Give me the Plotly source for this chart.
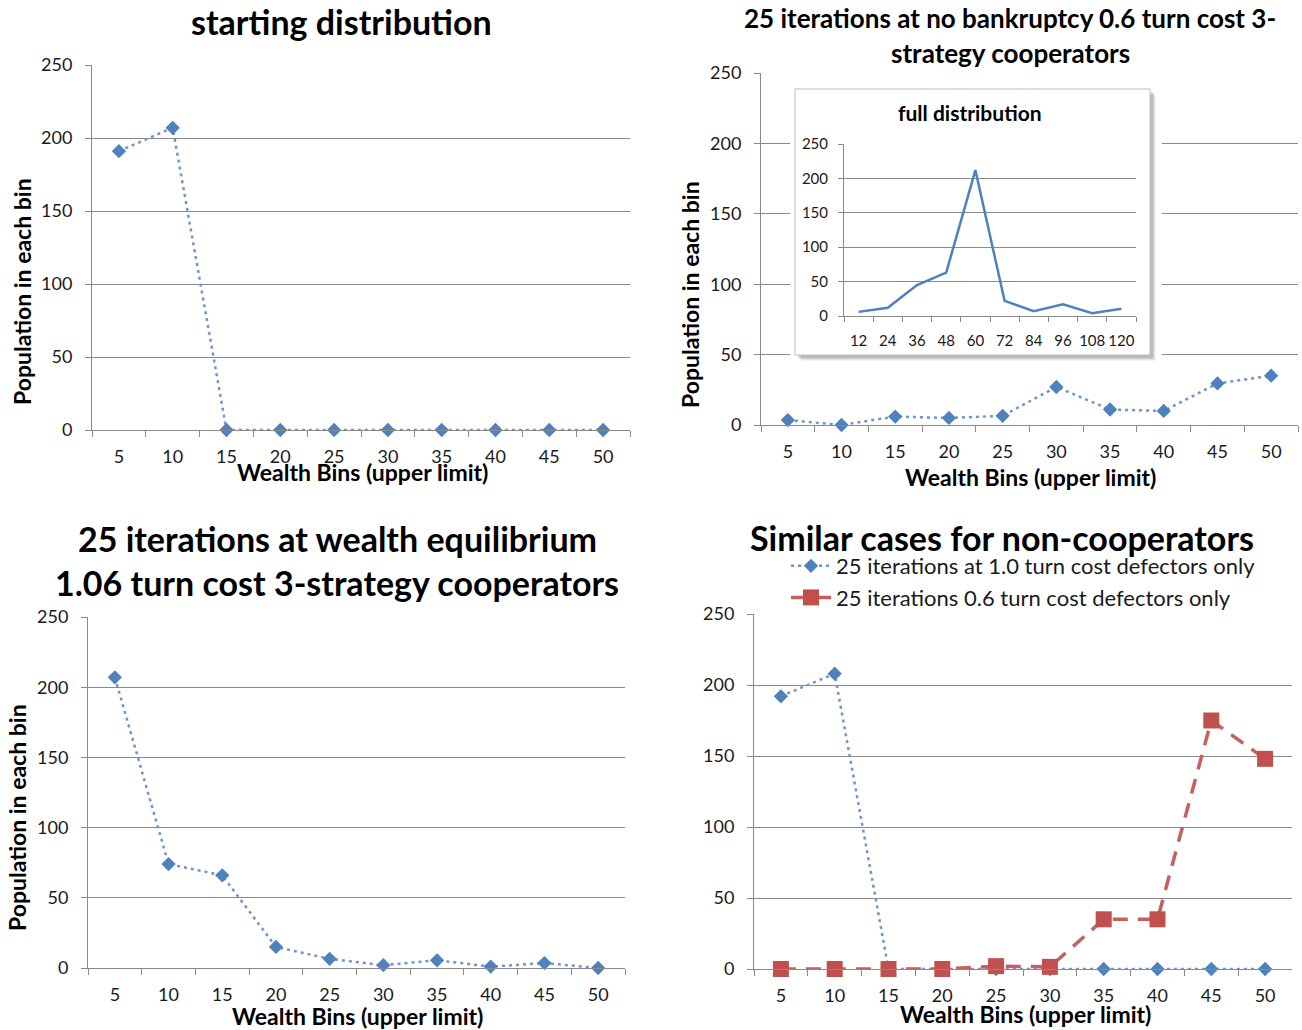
import plotly.graph_objects as go

W, H = 1302, 1030
FONT = "Lato"
TXT = "#1a1a1a"
GRID = "#8a8a8a"
BLUE = "#4F81BD"
BLUE_LINE = "#6F95C9"
RED = "#C0504D"
RED_LINE = "#C5605D"

# ---------------- data ----------------
bins = ["5", "10", "15", "20", "25", "30", "35", "40", "45", "50"]
start_pop = [191, 207, 0, 0, 0, 0, 0, 0, 0, 0]
nobank_pop = [3.5, 0, 6, 5, 6.5, 27, 11, 10, 29.5, 35]
equil_pop = [207, 74, 66, 15, 6.5, 2, 5.5, 1, 3.5, 0]
defect_10_pop = [192, 208, 0, 0, 0, 0, 0, 0, 0, 0]
defect_06_pop = [0, 0, 0, 0, 2, 1.5, 35, 35, 175, 148]
full_bins = ["12", "24", "36", "48", "60", "72", "84", "96", "108", "120"]
full_pop = [6, 12, 45, 63, 212, 22, 7, 17, 4, 10.5]

y_ticks = [0, 50, 100, 150, 200, 250]

legend_defect_10 = "25 iterations at 1.0 turn cost defectors only"
legend_defect_06 = "25 iterations 0.6 turn cost defectors only"


def dx(x0, x1):
    return [x0 / W, x1 / W]


def dy(ytop, ybot):
    return [1 - ybot / H, 1 - ytop / H]


def xcat(domain, anchor, fs=18, standoff=10, ticklen=6):
    return dict(domain=domain, anchor=anchor, type="category", range=[-0.5, 9.5],
                showline=True, linecolor=GRID, linewidth=1, ticks="outside",
                ticklen=ticklen, tickcolor=GRID, tickwidth=1, tickson="boundaries",
                showgrid=False, zeroline=False, tickangle=0, automargin=False,
                tickfont=dict(family=FONT, size=fs, color=TXT),
                ticklabelstandoff=standoff, fixedrange=True)


def yval(domain, anchor, fs=18, standoff=9, ticklen=6):
    return dict(domain=domain, anchor=anchor, range=[0, 250], tickvals=y_ticks,
                showgrid=True, gridcolor=GRID, gridwidth=1, automargin=False,
                showline=True, linecolor=GRID, linewidth=1, zeroline=False,
                ticks="outside", ticklen=ticklen, tickcolor=GRID, tickwidth=1,
                tickfont=dict(family=FONT, size=fs, color=TXT),
                ticklabelstandoff=standoff, fixedrange=True)


fig = go.Figure()

dot_line = dict(color=BLUE_LINE, width=2.5, dash="3px,4px")
diamond = dict(symbol="diamond", size=11, color=BLUE, line=dict(width=0))

# TL
fig.add_trace(go.Scatter(x=bins, y=start_pop, mode="lines+markers", line=dot_line,
                         marker=diamond, xaxis="x", yaxis="y", showlegend=False,
                         cliponaxis=False))
# TR
fig.add_trace(go.Scatter(x=bins, y=nobank_pop, mode="lines+markers", line=dot_line,
                         marker=diamond, xaxis="x2", yaxis="y2", showlegend=False,
                         cliponaxis=False))
# BL
fig.add_trace(go.Scatter(x=bins, y=equil_pop, mode="lines+markers", line=dot_line,
                         marker=diamond, xaxis="x3", yaxis="y3", showlegend=False,
                         cliponaxis=False))
# BR
fig.add_trace(go.Scatter(x=bins, y=defect_10_pop, mode="lines+markers", line=dot_line,
                         marker=diamond, xaxis="x4", yaxis="y4", name=legend_defect_10,
                         legendgroup="a", cliponaxis=False))
fig.add_trace(go.Scatter(x=bins, y=defect_06_pop, mode="lines+markers",
                         line=dict(color=RED_LINE, width=3.5, dash="15px,10px"),
                         marker=dict(symbol="square", size=16, color=RED, line=dict(width=0)),
                         xaxis="x4", yaxis="y4", name=legend_defect_06,
                         legendgroup="b", cliponaxis=False))

# inset box (decoration, pixel-unit axes)
BX0, BX1, BY0, BY1 = 795, 1150, 89, 355
for off, alpha in [(6, 0.05), (5, 0.06), (4, 0.08), (3, 0.10)]:
    fig.add_trace(go.Scatter(x=[BX0 + off, BX1 + off, BX1 + off, BX0 + off, BX0 + off],
                             y=[BY0 + off, BY0 + off, BY1 + off, BY1 + off, BY0 + off],
                             fill="toself", fillcolor=f"rgba(0,0,0,{alpha})",
                             mode="none", xaxis="x5", yaxis="y5",
                             showlegend=False, hoverinfo="skip"))
fig.add_trace(go.Scatter(x=[BX0, BX1, BX1, BX0, BX0], y=[BY0, BY0, BY1, BY1, BY0],
                         fill="toself", fillcolor="white", mode="lines",
                         line=dict(color="#bdbdbd", width=1),
                         xaxis="x5", yaxis="y5", showlegend=False, hoverinfo="skip"))

# inset line
fig.add_trace(go.Scatter(x=full_bins, y=full_pop, mode="lines",
                         line=dict(color=BLUE, width=2.5),
                         xaxis="x6", yaxis="y6", showlegend=False))

layout = dict(
    template="none",
    width=W, height=H, autosize=False,
    margin=dict(l=0, r=0, t=0, b=0, pad=0, autoexpand=False),
    paper_bgcolor="white", plot_bgcolor="white",
    font=dict(family=FONT, color=TXT),
    xaxis=xcat(dx(92, 630), "y"),
    yaxis=yval(dy(65, 430), "x"),
    xaxis2=xcat(dx(761, 1298), "y2"),
    yaxis2=yval(dy(73, 425), "x2"),
    xaxis3=xcat(dx(88, 625), "y3"),
    yaxis3=yval(dy(617, 968), "x3"),
    xaxis4=xcat(dx(754, 1292), "y4"),
    yaxis4=yval(dy(614, 969), "x4"),
    xaxis5=dict(domain=dx(790, 1162), anchor="y5", range=[790, 1162], visible=False,
                fixedrange=True, automargin=False),
    yaxis5=dict(domain=dy(85, 366), anchor="x5", range=[366, 85], visible=False,
                fixedrange=True, automargin=False),
    xaxis6=xcat(dx(844, 1136), "y6", fs=15, standoff=11, ticklen=5),
    yaxis6=yval(dy(144, 316), "x6", fs=15, standoff=7, ticklen=5),
    legend=dict(x=786 / W, y=1 - 545 / H, xanchor="left", yanchor="top",
                bgcolor="rgba(0,0,0,0)", borderwidth=0,
                font=dict(family=FONT, size=22, color=TXT),
                traceorder="grouped", tracegroupgap=0, itemwidth=40),
    showlegend=True,
)
fig.update_layout(**layout)

ann = []


def add_text(text, x, y, size, bold=True, angle=0):
    t = f"<b>{text}</b>" if bold else text
    ann.append(dict(text=t, x=x / W, y=1 - y / H, xref="paper", yref="paper",
                    xanchor="center", yanchor="middle", showarrow=False,
                    textangle=angle, font=dict(family=FONT, size=size, color="#000")))


# titles
add_text("starting distribution", 341, 22, 34)
add_text("25 iterations at no bankruptcy 0.6 turn cost 3-", 1010, 18, 26)
add_text("strategy cooperators", 1010, 53, 26)
add_text("25 iterations at wealth equilibrium", 337, 538, 34)
add_text("1.06 turn cost 3-strategy cooperators", 337, 582, 34)
add_text("Similar cases for non-cooperators", 1002, 537, 34)
add_text("full distribution", 970, 112, 21)

# axis titles
add_text("Population in each bin", 22, 292, 23, angle=-90)
add_text("Population in each bin", 690, 295, 23, angle=-90)
add_text("Population in each bin", 17, 818, 23, angle=-90)
add_text("Wealth Bins (upper limit)", 362, 472, 23)
add_text("Wealth Bins (upper limit)", 1030, 477, 23)
add_text("Wealth Bins (upper limit)", 357, 1016, 23)
add_text("Wealth Bins (upper limit)", 1025, 1014, 23)

fig.update_layout(annotations=ann)

fig.write_html(
    "out.html",
    config={"displayModeBar": False},
    post_script=(
        "document.body.style.margin='0';"
        "var d=document.getElementById('{plot_id}');"
        "d.style.position='fixed';d.style.top='0px';d.style.left='0px';"
    ),
)
